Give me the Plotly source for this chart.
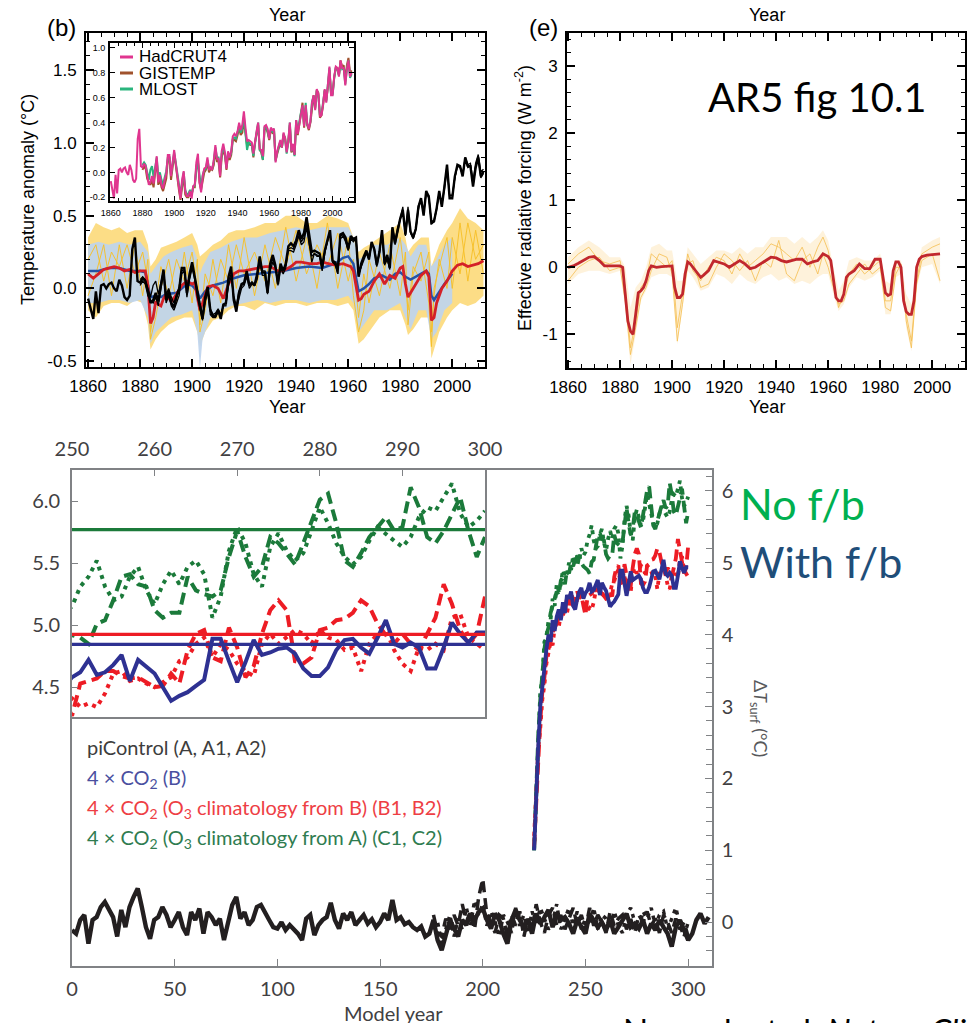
import plotly.graph_objects as go

W, H = 970, 1023


def px(x):
    return x / W


def py(y):
    return 1 - y / H


# ---------------- Panel (b): observations (annual, main-panel scale) ----------------
obs_start = 1860
hadcrut4 = [
    -0.07, -0.15, -0.21, -0.02, -0.17, 0.02, 0.03, 0.00, 0.03, 0.04,
    0.00, -0.02, 0.06, 0.02, -0.06, -0.08, -0.05, 0.27, 0.35, 0.05,
    0.04, 0.07, 0.05, -0.02, -0.10, -0.08, -0.03, -0.09, 0.02, 0.13,
    -0.08, -0.02, -0.10, -0.13, -0.06, -0.01, 0.14, 0.14, -0.03, 0.10,
    0.18, 0.07, -0.04, -0.12, -0.21, -0.06, 0.01, -0.15, -0.19, -0.19,
    -0.15, -0.21, -0.11, -0.10, 0.08, 0.15, -0.08, -0.16, -0.03, 0.03,
    0.04, 0.12, 0.02, 0.04, 0.02, 0.10, 0.22, 0.11, 0.11, -0.03,
    0.17, 0.23, 0.16, 0.03, 0.17, 0.12, 0.17, 0.29, 0.31, 0.29,
    0.33, 0.40, 0.34, 0.38, 0.49, 0.36, 0.25, 0.26, 0.25, 0.24,
    0.15, 0.26, 0.33, 0.40, 0.19, 0.18, 0.13, 0.37, 0.38, 0.35,
    0.27, 0.36, 0.34, 0.35, 0.08, 0.17, 0.22, 0.26, 0.20, 0.32,
    0.27, 0.16, 0.25, 0.40, 0.17, 0.23, 0.14, 0.42, 0.31, 0.40,
    0.48, 0.54, 0.37, 0.54, 0.39, 0.35, 0.41, 0.56, 0.62, 0.50,
    0.67, 0.63, 0.45, 0.46, 0.55, 0.67, 0.56, 0.70, 0.85, 0.62,
    0.62, 0.77, 0.85, 0.84, 0.77, 0.90, 0.84, 0.84, 0.70, 0.83,
    0.90, 0.77, 0.80,
]
other_start = 1880
gistemp = [
    0.02, 0.05, 0.03, -0.05, -0.08, -0.10, -0.06, -0.12, 0.00, 0.10,
    -0.10, -0.05, -0.12, -0.15, -0.10, -0.05, 0.10, 0.12, -0.06, 0.06,
    0.14, 0.06, -0.06, -0.14, -0.22, -0.10, -0.02, -0.18, -0.20, -0.20,
    -0.16, -0.18, -0.12, -0.12, 0.05, 0.10, -0.08, -0.14, -0.06, 0.00,
    0.02, 0.08, 0.00, 0.03, 0.02, 0.06, 0.18, 0.09, 0.09, -0.04,
    0.12, 0.18, 0.14, 0.02, 0.14, 0.10, 0.14, 0.26, 0.26, 0.25,
    0.30, 0.36, 0.30, 0.32, 0.42, 0.30, 0.22, 0.24, 0.22, 0.22,
    0.12, 0.24, 0.32, 0.38, 0.18, 0.16, 0.10, 0.34, 0.36, 0.32,
    0.26, 0.34, 0.32, 0.34, 0.10, 0.15, 0.20, 0.24, 0.20, 0.30,
    0.28, 0.18, 0.24, 0.38, 0.16, 0.20, 0.14, 0.40, 0.30, 0.38,
    0.48, 0.56, 0.36, 0.52, 0.38, 0.34, 0.40, 0.54, 0.62, 0.52,
    0.66, 0.64, 0.44, 0.46, 0.54, 0.66, 0.58, 0.68, 0.82, 0.64,
    0.64, 0.76, 0.84, 0.84, 0.78, 0.90, 0.85, 0.86, 0.74, 0.86,
    0.92, 0.80, 0.82,
]
mlost = [
    0.06, 0.08, 0.06, 0.00, -0.06, 0.02, 0.05, -0.04, 0.04, 0.12,
    -0.04, 0.00, -0.06, -0.10, -0.04, 0.01, 0.12, 0.13, -0.02, 0.08,
    0.16, 0.08, -0.02, -0.10, -0.18, -0.08, 0.00, -0.14, -0.18, -0.17,
    -0.14, -0.18, -0.12, -0.10, 0.02, 0.08, -0.05, -0.12, -0.02, 0.02,
    0.03, 0.10, 0.03, 0.04, 0.03, 0.09, 0.20, 0.12, 0.12, 0.00,
    0.15, 0.20, 0.15, 0.05, 0.16, 0.12, 0.16, 0.27, 0.28, 0.27,
    0.32, 0.38, 0.32, 0.35, 0.45, 0.32, 0.18, 0.24, 0.23, 0.22,
    0.13, 0.25, 0.32, 0.40, 0.18, 0.17, 0.10, 0.36, 0.37, 0.33,
    0.27, 0.35, 0.33, 0.35, 0.09, 0.16, 0.21, 0.25, 0.20, 0.31,
    0.27, 0.15, 0.24, 0.40, 0.17, 0.21, 0.13, 0.42, 0.33, 0.42,
    0.48, 0.53, 0.38, 0.56, 0.38, 0.36, 0.41, 0.57, 0.61, 0.51,
    0.66, 0.62, 0.46, 0.47, 0.55, 0.66, 0.57, 0.71, 0.84, 0.63,
    0.62, 0.76, 0.84, 0.83, 0.78, 0.88, 0.83, 0.84, 0.71, 0.83,
    0.90, 0.76, 0.79,
]

# model ensemble means (year, value)
model_mean_red = [
    (1860, 0.10), (1862, 0.07), (1864, 0.10), (1866, 0.13), (1868, 0.14), (1870, 0.15),
    (1872, 0.14), (1874, 0.12), (1876, 0.13), (1878, 0.11), (1880, 0.12), (1882, 0.12),
    (1883, 0.02), (1884, -0.24), (1885, -0.20), (1886, -0.09), (1887, -0.11), (1888, -0.12),
    (1889, -0.07), (1890, -0.04), (1892, -0.09), (1894, -0.04), (1896, 0.02), (1898, 0.05),
    (1900, 0.03), (1901, 0.04), (1902, -0.06), (1903, -0.15), (1904, -0.10), (1905, -0.04),
    (1906, 0.01), (1908, 0.02), (1910, 0.00), (1912, -0.07), (1914, 0.03), (1916, 0.10),
    (1918, 0.12), (1920, 0.12), (1923, 0.13), (1926, 0.14), (1928, 0.15), (1930, 0.15),
    (1933, 0.12), (1935, 0.12), (1938, 0.15), (1940, 0.18), (1942, 0.18), (1945, 0.17),
    (1948, 0.17), (1950, 0.18), (1953, 0.17), (1955, 0.16), (1958, 0.17), (1960, 0.16),
    (1961, 0.15), (1962, 0.12), (1963, 0.02), (1964, -0.08), (1965, -0.07), (1966, -0.04),
    (1968, -0.02), (1970, 0.05), (1972, 0.10), (1974, 0.03), (1976, 0.09), (1978, 0.07),
    (1980, 0.14), (1981, 0.15), (1982, 0.03), (1983, -0.06), (1984, -0.03), (1985, 0.00),
    (1986, 0.04), (1988, 0.09), (1990, 0.12), (1991, 0.08), (1992, -0.22), (1993, -0.20),
    (1994, -0.10), (1995, -0.05), (1996, 0.00), (1998, 0.05), (2000, 0.12), (2002, 0.16),
    (2004, 0.17), (2006, 0.15), (2008, 0.16), (2010, 0.17), (2012, 0.19),
]
model_mean_blue = [
    (1860, 0.12), (1864, 0.12), (1868, 0.14), (1872, 0.14), (1876, 0.12), (1880, 0.12),
    (1882, 0.11), (1884, -0.06), (1886, -0.05), (1888, -0.06), (1890, -0.04), (1894, -0.03),
    (1898, 0.03), (1900, 0.02), (1902, -0.02), (1903, -0.07), (1905, -0.02), (1908, 0.02),
    (1912, 0.04), (1916, 0.07), (1920, 0.09), (1925, 0.10), (1930, 0.11), (1935, 0.12),
    (1940, 0.14), (1945, 0.15), (1950, 0.14), (1955, 0.17), (1958, 0.21), (1960, 0.22),
    (1962, 0.17), (1963, 0.08), (1964, -0.02), (1966, 0.00), (1968, 0.03), (1970, 0.07),
    (1973, 0.09), (1976, 0.06), (1978, 0.10), (1980, 0.11), (1982, 0.08), (1984, 0.06),
    (1986, 0.08), (1988, 0.10), (1990, 0.12), (1991, 0.10), (1992, -0.05), (1993, -0.08),
    (1995, -0.02), (1997, 0.03), (2000, 0.10),
]
# ensemble spread (year, low, high)
spread_yellow = [
    (1860, -0.15, 0.35), (1863, -0.20, 0.45), (1866, -0.12, 0.42), (1869, -0.10, 0.40), (1872, -0.10, 0.42),
    (1875, -0.12, 0.38), (1878, -0.08, 0.40), (1881, -0.10, 0.40), (1883, -0.25, 0.30), (1884, -0.42, 0.15),
    (1886, -0.35, 0.20), (1888, -0.30, 0.28), (1891, -0.25, 0.30), (1894, -0.22, 0.32), (1897, -0.20, 0.35),
    (1900, -0.20, 0.38), (1902, -0.30, 0.30), (1903, -0.40, 0.22), (1905, -0.30, 0.25), (1908, -0.22, 0.30),
    (1911, -0.20, 0.33), (1914, -0.15, 0.38), (1917, -0.12, 0.40), (1920, -0.12, 0.40), (1924, -0.15, 0.42),
    (1928, -0.10, 0.45), (1932, -0.12, 0.45), (1936, -0.10, 0.50), (1940, -0.10, 0.50), (1944, -0.12, 0.45),
    (1948, -0.10, 0.45), (1952, -0.10, 0.50), (1956, -0.12, 0.48), (1960, -0.10, 0.45), (1962, -0.15, 0.35),
    (1964, -0.38, 0.25), (1966, -0.35, 0.28), (1968, -0.30, 0.30), (1972, -0.20, 0.35), (1976, -0.15, 0.40),
    (1980, -0.15, 0.45), (1982, -0.25, 0.35), (1983, -0.32, 0.25), (1985, -0.28, 0.30), (1988, -0.20, 0.35),
    (1991, -0.20, 0.35), (1992, -0.48, 0.15), (1993, -0.42, 0.20), (1995, -0.30, 0.30), (1998, -0.20, 0.40),
    (2000, -0.15, 0.45), (2003, -0.10, 0.55), (2006, -0.12, 0.48), (2009, -0.10, 0.45), (2012, -0.05, 0.40),
]
yellow_member_1 = [
    0.20, 0.30, 0.05, 0.25, 0.15, 0.30, 0.10, 0.25, 0.05, -0.30,
    -0.10, 0.15, -0.05, 0.20, 0.05, 0.25, 0.00, -0.25, 0.10, -0.05,
    0.20, 0.05, 0.30, 0.10, 0.25, 0.05, 0.35, 0.15, 0.40, 0.10,
    0.30, 0.15, 0.38, 0.05, 0.20, -0.20, 0.10, -0.10, 0.25, 0.00,
    0.35, 0.05, -0.15, 0.15, 0.05, 0.25, -0.30, -0.05, 0.20, 0.00,
    0.35, 0.10, 0.45, 0.20, 0.30,
]
yellow_member_2 = [
    -0.05, 0.10, 0.30, -0.05, 0.30, 0.00, 0.30, -0.05, 0.20, -0.35,
    -0.20, 0.00, 0.20, -0.10, 0.25, -0.10, 0.20, -0.30, -0.15, 0.20,
    -0.10, 0.30, 0.00, 0.35, -0.05, 0.30, 0.00, 0.42, 0.05, 0.35,
    0.00, 0.45, 0.00, 0.35, -0.05, -0.30, -0.15, 0.20, -0.05, 0.30,
    -0.05, 0.25, -0.25, 0.10, 0.25, -0.10, -0.40, 0.00, 0.15, 0.35,
    0.00, 0.45, 0.05, 0.40, 0.10,
]
spread_blue = [
    (1860, -0.10, 0.30), (1864, -0.10, 0.32), (1868, -0.08, 0.30), (1872, -0.08, 0.32), (1876, -0.10, 0.30),
    (1880, -0.08, 0.32), (1883, -0.20, 0.25), (1884, -0.38, 0.10), (1886, -0.30, 0.15), (1889, -0.25, 0.22),
    (1892, -0.20, 0.25), (1896, -0.18, 0.28), (1900, -0.15, 0.30), (1902, -0.30, 0.20), (1903, -0.55, 0.10),
    (1904, -0.35, 0.15), (1907, -0.20, 0.25), (1911, -0.15, 0.28), (1915, -0.12, 0.32), (1920, -0.10, 0.35),
    (1925, -0.08, 0.35), (1930, -0.10, 0.38), (1935, -0.08, 0.40), (1940, -0.08, 0.42), (1945, -0.10, 0.40),
    (1950, -0.08, 0.42), (1955, -0.08, 0.42), (1960, -0.05, 0.42), (1962, -0.10, 0.35), (1964, -0.30, 0.20),
    (1966, -0.25, 0.22), (1970, -0.15, 0.30), (1975, -0.15, 0.30), (1980, -0.10, 0.35), (1982, -0.20, 0.30),
    (1984, -0.28, 0.22), (1987, -0.15, 0.30), (1990, -0.15, 0.30), (1992, -0.35, 0.15), (1994, -0.30, 0.20),
    (1997, -0.15, 0.30), (2000, -0.10, 0.35),
]

# ---------------- Panel (e): effective radiative forcing ----------------
forcing_mean = [
    (1860, 0.0), (1862, 0.02), (1864, 0.06), (1866, 0.1), (1868, 0.15), (1870, 0.16), (1872, 0.1),
    (1874, 0.02), (1876, 0.02), (1878, 0.02), (1880, 0.02), (1881, 0.0), (1882, -0.4), (1883, -0.8),
    (1884, -0.95), (1885, -1.0), (1886, -0.7), (1887, -0.38), (1888, -0.35), (1889, -0.3), (1890, -0.2),
    (1891, -0.05), (1892, 0.02), (1894, 0.0), (1896, 0.01), (1898, 0.01), (1900, 0.02), (1901, -0.3),
    (1902, -0.45), (1903, -0.45), (1904, -0.4), (1905, -0.1), (1906, 0.08), (1907, 0.05), (1908, 0.0),
    (1910, -0.1), (1911, -0.15), (1912, -0.12), (1914, -0.05), (1916, 0.1), (1918, 0.08), (1920, 0.05),
    (1922, 0.0), (1924, 0.05), (1926, 0.1), (1928, 0.05), (1930, -0.02), (1932, 0.0), (1934, 0.05),
    (1936, 0.1), (1938, 0.15), (1940, 0.14), (1942, 0.1), (1944, 0.08), (1946, 0.1), (1948, 0.12),
    (1950, 0.12), (1952, 0.05), (1954, 0.08), (1956, 0.1), (1958, 0.2), (1960, 0.16), (1961, 0.1),
    (1962, -0.2), (1963, -0.45), (1964, -0.5), (1965, -0.5), (1966, -0.4), (1967, -0.15), (1968, -0.1),
    (1970, -0.05), (1972, 0.05), (1974, -0.02), (1976, -0.02), (1978, 0.12), (1980, 0.12), (1981, -0.1),
    (1982, -0.38), (1983, -0.42), (1984, -0.4), (1985, -0.05), (1986, 0.08), (1987, 0.08), (1988, 0.0),
    (1989, -0.5), (1990, -0.66), (1991, -0.7), (1992, -0.7), (1993, -0.5), (1994, 0.0), (1995, 0.12),
    (1996, 0.16), (1998, 0.18), (2000, 0.19), (2002, 0.2), (2003, 0.2),
]
forcing_years = [1860, 1864, 1868, 1872, 1876, 1880, 1882, 1884, 1886, 1888,
                 1890, 1892, 1895, 1898, 1900, 1902, 1904, 1906, 1908, 1911,
                 1914, 1917, 1920, 1923, 1926, 1929, 1932, 1935, 1938, 1941,
                 1944, 1947, 1950, 1953, 1956, 1958, 1960, 1962, 1964, 1966,
                 1968, 1971, 1974, 1977, 1980, 1982, 1984, 1986, 1988, 1990,
                 1992, 1994, 1996, 2000, 2003]
forcing_high = [0.15, 0.3, 0.4, 0.3, 0.15, 0.15, 0.0, -0.6, -0.3, -0.2,
                0.0, 0.3, 0.35, 0.25, 0.25, -0.2, -0.2, 0.3, 0.2, 0.05,
                0.15, 0.25, 0.25, 0.2, 0.3, 0.2, 0.3, 0.3, 0.45, 0.45,
                0.45, 0.35, 0.45, 0.35, 0.45, 0.55, 0.4, 0.0, -0.35, -0.2,
                0.1, 0.15, 0.1, 0.1, 0.2, -0.2, -0.25, 0.1, 0.1, -0.4,
                -0.55, -0.1, 0.3, 0.4, 0.45]
forcing_low = [-0.25, -0.1, -0.05, -0.05, -0.1, -0.05, -0.6, -1.45, -1.0, -0.5,
               -0.35, -0.15, -0.1, -0.1, -0.15, -1.15, -0.6, -0.05, -0.15, -0.35,
               -0.3, -0.1, -0.15, -0.25, -0.1, -0.2, -0.25, -0.15, -0.1, -0.2,
               -0.15, -0.25, -0.2, -0.25, -0.15, -0.1, -0.1, -0.4, -0.65, -0.55,
               -0.3, -0.15, -0.2, -0.15, -0.05, -0.7, -0.7, -0.15, -0.1, -0.9,
               -1.25, -0.3, 0.0, 0.05, -0.25]
forcing_member_1 = [0.05, 0.2, 0.3, 0.1, 0.05, 0.1, -0.3, -1.2, -0.8, -0.3,
                    -0.2, 0.2, 0.1, 0.0, 0.1, -0.9, -0.4, 0.2, -0.05, -0.2,
                    0.0, 0.15, 0.1, -0.1, 0.2, 0.0, 0.1, 0.2, 0.35, 0.3,
                    0.2, 0.1, 0.3, 0.0, 0.3, 0.45, 0.25, -0.2, -0.6, -0.4,
                    -0.1, 0.05, -0.1, 0.0, 0.1, -0.5, -0.5, 0.0, 0.0, -0.7,
                    -1.1, -0.2, 0.2, 0.3, 0.35]
forcing_member_2 = [-0.2, 0.0, 0.1, 0.15, -0.05, 0.0, -0.5, -1.3, -0.9, -0.45,
                    -0.3, -0.05, 0.2, 0.15, -0.1, -1.1, -0.55, 0.05, 0.1, -0.3,
                    -0.25, 0.0, 0.2, 0.1, -0.05, 0.1, -0.2, 0.1, 0.0, 0.4,
                    -0.1, -0.2, 0.1, 0.2, -0.1, 0.2, 0.0, -0.3, -0.55, -0.5,
                    -0.25, -0.1, 0.05, -0.1, 0.0, -0.6, -0.65, -0.1, 0.05, -0.8,
                    -1.2, -0.25, 0.1, 0.2, -0.2]

# ---------------- Bottom panel: Nowack et al. ----------------
picontrol_step = 2
picontrol_A = [
    -0.11, -0.16, 0.03, 0.10, -0.30, 0.03, 0.07, 0.21, 0.28, 0.17,
    0.07, -0.20, 0.17, -0.07, 0.21, 0.35, 0.47, 0.21, -0.07, -0.23,
    0.03, 0.07, 0.21, 0.10, -0.07, 0.03, 0.14, -0.07, -0.18, 0.14,
    0.03, 0.19, -0.16, 0.14, 0.07, -0.04, 0.05, -0.25, -0.02, 0.24,
    0.35, 0.05, 0.14, -0.04, 0.03, 0.21, 0.24, 0.12, 0.03, -0.07,
    -0.09, 0.00, -0.11, -0.04, -0.09, -0.16, -0.25, 0.05, 0.10, -0.18,
    -0.04, 0.03, 0.07, 0.27, 0.03, -0.09, 0.12, 0.03, 0.14, -0.04,
    0.03, 0.10, -0.02, 0.04, -0.07, 0.00, 0.12, 0.03, 0.31, 0.03,
    0.07, -0.03, 0.00, -0.07, -0.11, -0.06, -0.20, -0.16, 0.03, -0.25,
    -0.39, -0.16, 0.03, -0.09, -0.20, 0.03, -0.04, 0.12, 0.03, 0.14,
    0.19, 0.03, -0.09, 0.12, 0.03, -0.16, -0.30, 0.03, 0.17, 0.03,
    -0.07, 0.03, -0.16, 0.12, -0.02, 0.07, 0.17, -0.07, 0.12, 0.03,
    0.07, -0.02, -0.16, 0.03, -0.07, -0.16, 0.12, 0.03, -0.07, 0.00,
    -0.11, 0.03, -0.16, -0.07, 0.03, 0.12, -0.07, -0.02, -0.09, 0.03,
    -0.16, -0.02, -0.11, 0.03, -0.07, -0.16, -0.34, -0.07, 0.03, -0.11,
    -0.25, -0.16, 0.03, 0.12, -0.02, 0.07,
]
branch_start = 176
picontrol_A1 = [
    0.10, -0.15, -0.20, 0.05, -0.10, 0.10, -0.05, 0.25, 0.00, 0.15,
    -0.10, 0.35, 0.60, 0.10, 0.00, -0.15, 0.10, 0.05, -0.20, 0.10,
    -0.05, 0.15, -0.20, 0.05, -0.10, 0.25, 0.00, -0.15, 0.10, 0.20,
    -0.05, 0.10, -0.10, 0.05, 0.20, -0.05, 0.10, -0.10, 0.20, -0.05,
    0.10, 0.00, -0.15, 0.15, -0.05, 0.05, 0.10, -0.10, 0.05, -0.15,
    0.10, 0.00, 0.15, -0.05, 0.05, -0.15, 0.10, 0.00, -0.15, 0.05,
    -0.10, 0.00, -0.20,
]
picontrol_A2 = [
    -0.10, 0.00, -0.30, -0.10, 0.10, -0.20, 0.05, -0.10, 0.20, -0.05,
    0.30, 0.10, 0.25, -0.05, 0.15, 0.00, -0.20, 0.10, 0.00, -0.15,
    0.20, -0.05, 0.10, -0.15, 0.15, -0.05, 0.20, 0.05, -0.10, 0.00,
    0.25, -0.10, 0.05, 0.20, -0.05, 0.15, -0.10, 0.05, -0.05, 0.20,
    -0.10, 0.10, 0.05, -0.10, 0.15, -0.05, -0.15, 0.10, 0.20, 0.00,
    -0.10, 0.15, 0.05, 0.20, -0.05, 0.10, 0.15, -0.10, 0.05, 0.20,
    -0.05, -0.20, 0.00,
]
co2_start = 225
co2_B = [
    1.0, 1.8, 2.45, 3.0, 3.3, 3.6, 3.8, 4.0, 3.9, 4.2, 4.05, 4.25, 4.35, 4.2, 4.45,
    4.3, 4.55, 4.5, 4.6, 4.4, 4.35, 4.5, 4.6, 4.65, 4.5,
    4.58, 4.62, 4.72, 4.60, 4.62, 4.68, 4.76, 4.55, 4.72, 4.66,
    4.61, 4.50, 4.39, 4.43, 4.46, 4.51, 4.56, 4.89, 4.89, 4.71,
    4.54, 4.70, 4.88, 4.76, 4.78, 4.81, 4.82, 4.77, 4.65, 4.59,
    4.59, 4.66, 4.80, 4.88, 4.89, 4.82, 4.77, 4.90, 5.04, 4.85,
    4.82, 4.86, 4.82, 4.65, 4.65, 4.82, 5.02, 4.93, 4.86, 4.94,
    4.94,
]
co2_B1 = [
    1.05, 1.7, 2.3, 2.8, 3.2, 3.4, 3.7, 3.8, 3.9, 4.0, 4.15, 4.1, 4.3, 4.2, 4.4,
    4.35, 4.5, 4.4, 4.6, 4.45, 4.5, 4.6, 4.5, 4.55, 4.4,
    4.27, 4.53, 4.55, 4.57, 4.63, 4.63, 4.59, 4.57, 4.58, 4.54,
    4.50, 4.51, 4.61, 4.53, 4.80, 4.93, 4.96, 4.74, 4.71, 4.98,
    4.82, 4.58, 4.67, 4.93, 5.12, 5.20, 5.12, 4.71, 4.69, 4.74,
    4.96, 4.98, 5.04, 5.05, 5.10, 5.20, 5.15, 5.01, 4.92, 4.85,
    4.93, 4.85, 4.80, 4.93, 5.06, 5.33, 5.17, 4.96, 4.85, 4.93,
    5.23,
]
co2_B2 = [
    1.2, 1.9, 2.4, 2.7, 3.1, 3.3, 3.6, 3.75, 3.9, 3.85, 4.1, 4.2, 4.1, 4.3, 4.25,
    4.4, 4.3, 4.45, 4.5, 4.4, 4.55, 4.45, 4.6, 4.5, 4.45,
    4.41, 4.34, 4.37, 4.34, 4.45, 4.61, 4.63, 4.55, 4.57, 4.53,
    4.50, 4.54, 4.58, 4.71, 4.74, 4.85, 4.90, 4.74, 4.85, 4.80,
    4.69, 4.63, 4.59, 4.85, 4.93, 4.85, 4.90, 4.96, 4.93, 4.85,
    4.96, 4.90, 4.88, 4.80, 4.82, 4.63, 4.85, 4.93, 4.96, 4.80,
    4.69, 4.63, 4.82, 4.80, 4.85, 4.80, 5.06, 5.09, 4.90, 4.85,
    4.80,
]
co2_C1 = [
    1.0, 1.9, 2.6, 3.1, 3.5, 3.8, 4.0, 4.1, 4.3, 4.4, 4.5, 4.6, 4.55, 4.75, 4.8,
    4.7, 4.9, 4.85, 5.0, 4.95, 5.05, 4.95, 5.1, 5.0, 4.95,
    4.92, 4.90, 4.85, 5.01, 5.04, 5.20, 5.39, 5.41, 5.33, 5.31,
    5.12, 5.06, 5.10, 5.10, 5.39, 5.28, 5.25, 5.23, 5.28, 5.55,
    5.76, 5.55, 5.39, 5.47, 5.71, 5.66, 5.58, 5.49, 5.66, 5.84,
    6.01, 6.06, 5.82, 5.52, 5.47, 5.58, 5.71, 5.79, 5.87, 5.76,
    5.79, 6.11, 5.95, 5.71, 5.66, 5.76, 5.90, 6.03, 5.76, 5.55,
    5.71,
]
co2_C2 = [
    1.0, 1.85, 2.7, 3.2, 3.4, 3.9, 3.95, 4.2, 4.2, 4.5, 4.4, 4.7, 4.6, 4.7, 4.9,
    4.8, 4.85, 5.0, 4.9, 5.1, 5.0, 5.1, 5.05, 5.2, 5.1,
    5.15, 5.31, 5.39, 5.52, 5.31, 5.20, 5.23, 5.39, 5.47, 5.28,
    5.17, 5.33, 5.44, 5.33, 5.47, 5.52, 5.41, 5.06, 5.23, 5.60,
    5.79, 5.66, 5.41, 5.31, 5.63, 5.74, 5.60, 5.52, 5.58, 5.76,
    5.95, 5.82, 5.66, 5.55, 5.49, 5.55, 5.68, 5.79, 5.73, 5.68,
    5.63, 5.71, 5.87, 5.95, 5.92, 6.03, 6.14, 5.90, 5.79, 5.84,
    5.92,
]
# mean levels over years 250-300 shown in the zoom inset
inset_mean_names = ["C", "B1/B2", "B"]
inset_mean_values = [5.77, 4.925, 4.845]

# ---------------- styling ----------------
HELV = "Liberation Sans, Arial, sans-serif"
NAT = "Lato, Open Sans, sans-serif"
GREY_AX = "#808285"
GREY_TX = "#414042"
C_BLUE = "#2e3192"
C_RED = "#ed1c24"
C_GREEN = "#1b7a3a"
C_BLACK = "#231f20"

fig = go.Figure()


def add_line(x, y, xa, ya, color, width, dash="solid", name=None):
    fig.add_trace(go.Scatter(x=x, y=y, mode="lines", xaxis=xa, yaxis=ya,
                             line=dict(color=color, width=width, dash=dash),
                             showlegend=False, hoverinfo="skip", name=name))


def add_band(years, low, high, xa, ya, color):
    fig.add_trace(go.Scatter(x=years, y=low, mode="lines", xaxis=xa, yaxis=ya,
                             line=dict(width=0, color=color), showlegend=False, hoverinfo="skip"))
    fig.add_trace(go.Scatter(x=years, y=high, mode="lines", xaxis=xa, yaxis=ya, fill="tonexty",
                             fillcolor=color, line=dict(width=0, color=color),
                             showlegend=False, hoverinfo="skip"))


# panel (b)
add_band([t[0] for t in spread_yellow], [t[1] for t in spread_yellow], [t[2] for t in spread_yellow],
         "x", "y", "rgba(250,200,60,0.62)")
add_band([t[0] for t in spread_blue], [t[1] for t in spread_blue], [t[2] for t in spread_blue],
         "x", "y", "rgba(190,212,238,0.92)")
yel_years = [t[0] for t in spread_yellow]
add_line(yel_years, yellow_member_1, "x", "y", "rgba(247,192,40,0.95)", 1)
add_line(yel_years, yellow_member_2, "x", "y", "rgba(247,192,40,0.95)", 1)
add_line([t[0] for t in model_mean_blue], [t[1] for t in model_mean_blue], "x", "y", "#2453a6", 2.5)
add_line([t[0] for t in model_mean_red], [t[1] for t in model_mean_red], "x", "y", "#d42027", 2.8)
obs_years = [obs_start + i for i in range(len(hadcrut4))]
gis_years = [other_start + i for i in range(len(gistemp))]
mlo_years = [other_start + i for i in range(len(mlost))]
add_line(gis_years, gistemp, "x", "y", "black", 1.3)
add_line(mlo_years, mlost, "x", "y", "black", 1.3)
add_line(obs_years, hadcrut4, "x", "y", "black", 2.4)

# inset of panel (b)
add_line(gis_years, gistemp, "x2", "y2", "#a0522d", 2)
add_line(mlo_years, mlost, "x2", "y2", "#2ab57d", 2)
add_line(obs_years, hadcrut4, "x2", "y2", "#e0358f", 2)

# panel (e)
add_band(forcing_years, forcing_low, forcing_high, "x3", "y3", "rgba(250,205,110,0.25)")
add_line(forcing_years, forcing_member_1, "x3", "y3", "rgba(245,190,80,0.8)", 1)
add_line(forcing_years, forcing_member_2, "x3", "y3", "rgba(245,190,80,0.8)", 1)
add_line([t[0] for t in forcing_mean], [t[1] for t in forcing_mean], "x3", "y3", "#c1272d", 2.8)

# bottom main panel
pi_years = [i * picontrol_step for i in range(len(picontrol_A))]
br_years = [branch_start + i * picontrol_step for i in range(len(picontrol_A1))]
br_years2 = [branch_start + i * picontrol_step for i in range(len(picontrol_A2))]
add_line(br_years2, picontrol_A2, "x4", "y4", C_BLACK, 3.5, "4px,5px")
add_line(br_years, picontrol_A1, "x4", "y4", C_BLACK, 3.5, "11px,6px")
add_line(pi_years, picontrol_A, "x4", "y4", C_BLACK, 4.4)

series = [
    (co2_C2, C_GREEN, "4px,5px"), (co2_C1, C_GREEN, "12px,6px"),
    (co2_B2, C_RED, "4px,5px"), (co2_B1, C_RED, "12px,6px"),
    (co2_B, C_BLUE, "solid"),
]
for vals, col, dsh in series:
    yrs = [co2_start + i for i in range(len(vals))]
    add_line(yrs, vals, "x4", "y4", col, 3.8, dsh)

# bottom inset (years 250-300)
inset_cols = [C_GREEN, C_RED, C_BLUE]
for vals, col, dsh in series:
    yrs = [co2_start + i for i in range(len(vals))]
    add_line(yrs, vals, "x5", "y5", col, 4, dsh)
for nm, val, col in zip(inset_mean_names, inset_mean_values, inset_cols):
    add_line([250, 300], [val, val], "x5", "y5", col, 3.2, name=nm)

# ---------------- axes ----------------
top_tickfont = dict(family=HELV, size=17, color="black")
frame = dict(showline=True, linecolor="black", linewidth=2, mirror="allticks", ticks="inside",
             ticklen=8, tickwidth=1.5, tickcolor="black", showgrid=False, zeroline=False,
             automargin=False)
minor_top = dict(ticks="inside", ticklen=4, tickwidth=1.2, tickcolor="black", showgrid=False)
bottom_ax = dict(showline=True, linecolor=GREY_AX, linewidth=1.6, mirror=True, ticks="inside",
                 tickwidth=1.3, tickcolor=GREY_AX, showgrid=False, zeroline=False, automargin=False,
                 tickfont=dict(family=NAT, size=20, color=GREY_TX))

year_ticks = [1860, 1880, 1900, 1920, 1940, 1960, 1980, 2000]

fig.update_layout(
    xaxis=dict(domain=[px(86), px(485)], range=[1859.2, 2012.6], anchor="y",
               tickmode="array", tickvals=year_ticks, tickfont=top_tickfont, ticklabelstandoff=3,
               minor=dict(tickmode="linear", tick0=1860, dtick=5, **minor_top), **frame),
    yaxis=dict(domain=[py(367), py(33)], range=[-0.54, 1.755], anchor="x",
               tickmode="array", tickvals=[-0.5, 0.0, 0.5, 1.0, 1.5],
               ticktext=["-0.5", "0.0", "0.5", "1.0", "1.5"], tickfont=top_tickfont, ticklabelstandoff=4,
               minor=dict(tickmode="linear", tick0=0, dtick=0.1, **minor_top), **frame),
    xaxis2=dict(domain=[px(110), px(354)], range=[1859.5, 2013.5], anchor="y2",
                tickmode="array", tickvals=year_ticks, tickfont=dict(family=HELV, size=9, color="black"),
                ticklabelstandoff=2, automargin=False,
                showline=True, linecolor="black", linewidth=2, mirror="allticks", ticks="inside",
                ticklen=5, tickwidth=1.2, tickcolor="black", showgrid=False, zeroline=False,
                minor=dict(tickmode="linear", tick0=1860, dtick=5, ticks="inside", ticklen=3,
                           tickcolor="black", showgrid=False)),
    yaxis2=dict(domain=[py(201), py(43)], range=[-0.23, 1.04], anchor="x2",
                tickmode="array", tickvals=[-0.2, 0.0, 0.2, 0.4, 0.6, 0.8, 1.0],
                ticktext=["-0.2", "0.0", "0.2", "0.4", "0.6", "0.8", "1.0"],
                tickfont=dict(family=HELV, size=9, color="black"), ticklabelstandoff=1, automargin=False,
                showline=True, linecolor="black", linewidth=2, mirror="allticks", ticks="inside",
                ticklen=5, tickwidth=1.2, tickcolor="black", showgrid=False, zeroline=False),
    xaxis3=dict(domain=[px(567), px(965)], range=[1859.6, 2012.6], anchor="y3",
                tickmode="array", tickvals=year_ticks, tickfont=top_tickfont, ticklabelstandoff=3,
                minor=dict(tickmode="linear", tick0=1860, dtick=5, **minor_top), **frame),
    yaxis3=dict(domain=[py(368), py(33)], range=[-1.5, 3.49], anchor="x3",
                tickmode="array", tickvals=[-1, 0, 1, 2, 3], ticktext=["-1", "0", "1", "2", "3"],
                tickfont=top_tickfont, ticklabelstandoff=4,
                minor=dict(tickmode="linear", tick0=0, dtick=0.2, **minor_top), **frame),
    xaxis4=dict(domain=[px(72), px(712)], range=[0, 311.6], anchor="y4",
                tickmode="array", tickvals=[0, 50, 100, 150, 200, 250, 300],
                ticklabelstandoff=4, ticklen=7, **bottom_ax),
    yaxis4=dict(domain=[py(966), py(470)], range=[-0.61, 6.29], anchor="x4", side="right",
                tickmode="array", tickvals=[0, 1, 2, 3, 4, 5, 6],
                ticklabelstandoff=4, ticklen=7,
                minor=dict(tickmode="linear", tick0=0, dtick=0.2, ticks="inside", ticklen=6,
                           tickwidth=1.2, tickcolor=GREY_AX, showgrid=False), **bottom_ax),
    xaxis5=dict(domain=[px(72), px(485)], range=[250, 300], anchor="y5", side="top",
                tickmode="array", tickvals=[250, 260, 270, 280, 290, 300],
                ticklabelstandoff=4, ticklen=6, **bottom_ax),
    yaxis5=dict(domain=[py(717), py(470)], range=[4.26, 6.25], anchor="x5",
                tickmode="array", tickvals=[4.5, 5.0, 5.5, 6.0], ticktext=["4.5", "5.0", "5.5", "6.0"],
                ticklabelstandoff=6, ticklen=6, **bottom_ax),
)

# ---------------- annotations ----------------
ann = []


def text(x, y, s, size, family=HELV, color="black", xanchor="center", yanchor="middle", angle=0):
    ann.append(dict(x=px(x), y=py(y), xref="paper", yref="paper", text=s, showarrow=False,
                    font=dict(family=family, size=size, color=color), xanchor=xanchor,
                    yanchor=yanchor, textangle=angle))


text(287, 15, "Year", 18)
text(767, 15, "Year", 18)
text(287, 407, "Year", 18)
text(767, 407, "Year", 18)
text(61, 28, "(b)", 24)
text(543, 28, "(e)", 24)
text(28, 200, "Temperature anomaly (°C)", 18, angle=-90)
text(523, 198, "Effective radiative forcing (W m<sup>-2</sup>)", 18, angle=-90)
legend_rows = [("HadCRUT4", "#e0358f", 57), ("GISTEMP", "#a0522d", 73), ("MLOST", "#2ab57d", 89)]
shapes = []
for lbl, col, yy in legend_rows:
    text(137, yy, lbl, 17, xanchor="left")
    shapes.append(dict(type="line", xref="paper", yref="paper", x0=px(120), x1=px(133),
                       y0=py(yy), y1=py(yy), line=dict(color=col, width=3)))
text(817, 97, "AR5 fig 10.1", 40, family=NAT)

leg_bottom = [
    ("piControl (A, A1, A2)", "#3d3d3d", 747),
    ("4 × CO<sub>2</sub> (B)", "#4a4f9f", 778),
    ("4 × CO<sub>2</sub> (O<sub>3</sub> climatology from B) (B1, B2)", "#ee3e44", 808),
    ("4 × CO<sub>2</sub> (O<sub>3</sub> climatology from A) (C1, C2)", "#2f7c50", 838),
]
for s, col, yy in leg_bottom:
    text(85, yy, s, 20, family=NAT, color=col, xanchor="left")
text(393, 1013, "Model year", 20, family=NAT, color=GREY_TX)
text(760, 718, "Δ<i>T</i><sub>surf</sub> (°C)", 18, family=NAT, color="#58595b", angle=90)
text(738, 503, "No f/b", 43, family=NAT, color="#00b050", xanchor="left")
text(738, 561, "With f/b", 43, family=NAT, color="#1f4e79", xanchor="left")
text(621, 1008, "Nowack et al. <i>Nature Climate Change</i>", 33, family=NAT, xanchor="left", yanchor="top")

fig.update_layout(
    width=W, height=H, autosize=False,
    margin=dict(l=0, r=0, t=0, b=0, pad=0, autoexpand=False),
    paper_bgcolor="white", plot_bgcolor="rgba(0,0,0,0)",
    showlegend=False, annotations=ann, shapes=shapes,
)

fig.write_html("out.html", include_plotlyjs=True, full_html=True,
               config={"displayModeBar": False, "responsive": False},
               post_script="document.body.style.margin='0px';document.body.style.overflow='hidden';")
